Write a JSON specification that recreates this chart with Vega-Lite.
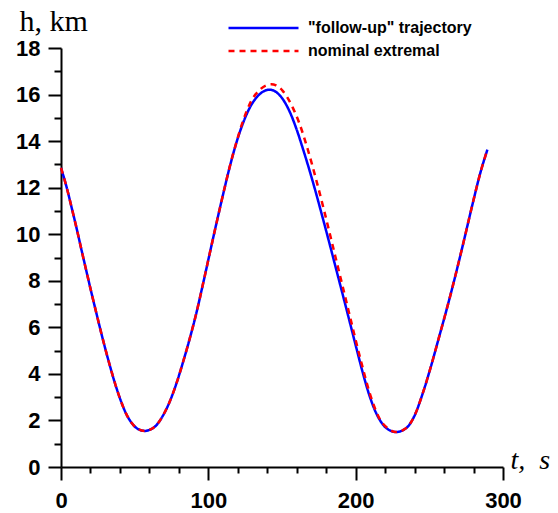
{
  "$schema": "https://vega.github.io/schema/vega-lite/v6.json",
  "autosize": "none",
  "width": 442,
  "height": 419,
  "padding": {"left": 61, "top": 48, "right": 55, "bottom": 46},
  "background": "white",
  "config": {
    "view": {"stroke": null},
    "axis": {
      "grid": false,
      "domainColor": "black",
      "domainWidth": 2,
      "tickColor": "black",
      "tickWidth": 2,
      "labelColor": "black",
      "labelFont": "Liberation Sans",
      "labelFontWeight": "bold",
      "labelFontSize": 22,
      "labelOverlap": false,
      "labelFlush": false,
      "titleFont": "Liberation Serif",
      "titleFontWeight": "normal",
      "titleColor": "black"
    },
    "legend": {
      "labelFont": "Liberation Sans",
      "labelFontWeight": "bold",
      "labelFontSize": 16,
      "labelColor": "black",
      "labelLimit": 0
    }
  },
  "data": {
    "values": [
      {"t": 0, "h": 12.85, "series": "\"follow-up\" trajectory"},
      {"t": 3.9, "h": 12.0, "series": "\"follow-up\" trajectory"},
      {"t": 7.2, "h": 11.15, "series": "\"follow-up\" trajectory"},
      {"t": 10.6, "h": 10.25, "series": "\"follow-up\" trajectory"},
      {"t": 14.0, "h": 9.3, "series": "\"follow-up\" trajectory"},
      {"t": 17.4, "h": 8.37, "series": "\"follow-up\" trajectory"},
      {"t": 20.8, "h": 7.45, "series": "\"follow-up\" trajectory"},
      {"t": 24.2, "h": 6.56, "series": "\"follow-up\" trajectory"},
      {"t": 27.5, "h": 5.71, "series": "\"follow-up\" trajectory"},
      {"t": 30.9, "h": 4.88, "series": "\"follow-up\" trajectory"},
      {"t": 34.3, "h": 4.1, "series": "\"follow-up\" trajectory"},
      {"t": 37.7, "h": 3.38, "series": "\"follow-up\" trajectory"},
      {"t": 41.1, "h": 2.76, "series": "\"follow-up\" trajectory"},
      {"t": 44.5, "h": 2.25, "series": "\"follow-up\" trajectory"},
      {"t": 47.9, "h": 1.9, "series": "\"follow-up\" trajectory"},
      {"t": 52.3, "h": 1.63, "series": "\"follow-up\" trajectory"},
      {"t": 56.9, "h": 1.55, "series": "\"follow-up\" trajectory"},
      {"t": 60.3, "h": 1.6, "series": "\"follow-up\" trajectory"},
      {"t": 64.8, "h": 1.8, "series": "\"follow-up\" trajectory"},
      {"t": 69.3, "h": 2.22, "series": "\"follow-up\" trajectory"},
      {"t": 73.8, "h": 2.81, "series": "\"follow-up\" trajectory"},
      {"t": 78.3, "h": 3.58, "series": "\"follow-up\" trajectory"},
      {"t": 82.8, "h": 4.5, "series": "\"follow-up\" trajectory"},
      {"t": 87.4, "h": 5.52, "series": "\"follow-up\" trajectory"},
      {"t": 91.9, "h": 6.62, "series": "\"follow-up\" trajectory"},
      {"t": 96.4, "h": 7.87, "series": "\"follow-up\" trajectory"},
      {"t": 100.9, "h": 9.16, "series": "\"follow-up\" trajectory"},
      {"t": 105.4, "h": 10.44, "series": "\"follow-up\" trajectory"},
      {"t": 109.9, "h": 11.68, "series": "\"follow-up\" trajectory"},
      {"t": 114.4, "h": 12.86, "series": "\"follow-up\" trajectory"},
      {"t": 119.0, "h": 13.92, "series": "\"follow-up\" trajectory"},
      {"t": 123.4, "h": 14.75, "series": "\"follow-up\" trajectory"},
      {"t": 128.0, "h": 15.42, "series": "\"follow-up\" trajectory"},
      {"t": 132.5, "h": 15.86, "series": "\"follow-up\" trajectory"},
      {"t": 137.0, "h": 16.12, "series": "\"follow-up\" trajectory"},
      {"t": 141.5, "h": 16.21, "series": "\"follow-up\" trajectory"},
      {"t": 148.3, "h": 15.98, "series": "\"follow-up\" trajectory"},
      {"t": 155.1, "h": 15.28, "series": "\"follow-up\" trajectory"},
      {"t": 159.6, "h": 14.56, "series": "\"follow-up\" trajectory"},
      {"t": 164.1, "h": 13.69, "series": "\"follow-up\" trajectory"},
      {"t": 168.6, "h": 12.76, "series": "\"follow-up\" trajectory"},
      {"t": 173.2, "h": 11.74, "series": "\"follow-up\" trajectory"},
      {"t": 177.6, "h": 10.71, "series": "\"follow-up\" trajectory"},
      {"t": 182.2, "h": 9.61, "series": "\"follow-up\" trajectory"},
      {"t": 186.7, "h": 8.51, "series": "\"follow-up\" trajectory"},
      {"t": 191.2, "h": 7.41, "series": "\"follow-up\" trajectory"},
      {"t": 195.7, "h": 6.3, "series": "\"follow-up\" trajectory"},
      {"t": 200.2, "h": 5.18, "series": "\"follow-up\" trajectory"},
      {"t": 204.7, "h": 4.08, "series": "\"follow-up\" trajectory"},
      {"t": 209.2, "h": 3.1, "series": "\"follow-up\" trajectory"},
      {"t": 213.8, "h": 2.33, "series": "\"follow-up\" trajectory"},
      {"t": 218.3, "h": 1.84, "series": "\"follow-up\" trajectory"},
      {"t": 223.9, "h": 1.55, "series": "\"follow-up\" trajectory"},
      {"t": 227.3, "h": 1.5, "series": "\"follow-up\" trajectory"},
      {"t": 234.1, "h": 1.66, "series": "\"follow-up\" trajectory"},
      {"t": 239.7, "h": 2.17, "series": "\"follow-up\" trajectory"},
      {"t": 245.3, "h": 3.12, "series": "\"follow-up\" trajectory"},
      {"t": 251.0, "h": 4.3, "series": "\"follow-up\" trajectory"},
      {"t": 256.6, "h": 5.58, "series": "\"follow-up\" trajectory"},
      {"t": 262.3, "h": 6.9, "series": "\"follow-up\" trajectory"},
      {"t": 268.0, "h": 8.3, "series": "\"follow-up\" trajectory"},
      {"t": 273.6, "h": 9.76, "series": "\"follow-up\" trajectory"},
      {"t": 279.2, "h": 11.26, "series": "\"follow-up\" trajectory"},
      {"t": 284.9, "h": 12.7, "series": "\"follow-up\" trajectory"},
      {"t": 289.4, "h": 13.63, "series": "\"follow-up\" trajectory"},

      {"t": 0, "h": 12.85, "series": "nominal extremal"},
      {"t": 3.9, "h": 12.0, "series": "nominal extremal"},
      {"t": 7.2, "h": 11.15, "series": "nominal extremal"},
      {"t": 10.6, "h": 10.25, "series": "nominal extremal"},
      {"t": 14.0, "h": 9.3, "series": "nominal extremal"},
      {"t": 17.4, "h": 8.37, "series": "nominal extremal"},
      {"t": 20.8, "h": 7.45, "series": "nominal extremal"},
      {"t": 24.2, "h": 6.56, "series": "nominal extremal"},
      {"t": 27.5, "h": 5.71, "series": "nominal extremal"},
      {"t": 30.9, "h": 4.88, "series": "nominal extremal"},
      {"t": 34.3, "h": 4.1, "series": "nominal extremal"},
      {"t": 37.7, "h": 3.38, "series": "nominal extremal"},
      {"t": 41.1, "h": 2.76, "series": "nominal extremal"},
      {"t": 44.5, "h": 2.25, "series": "nominal extremal"},
      {"t": 47.9, "h": 1.9, "series": "nominal extremal"},
      {"t": 52.3, "h": 1.63, "series": "nominal extremal"},
      {"t": 56.9, "h": 1.55, "series": "nominal extremal"},
      {"t": 60.3, "h": 1.6, "series": "nominal extremal"},
      {"t": 64.8, "h": 1.8, "series": "nominal extremal"},
      {"t": 69.3, "h": 2.22, "series": "nominal extremal"},
      {"t": 73.8, "h": 2.81, "series": "nominal extremal"},
      {"t": 78.3, "h": 3.58, "series": "nominal extremal"},
      {"t": 82.8, "h": 4.5, "series": "nominal extremal"},
      {"t": 87.4, "h": 5.52, "series": "nominal extremal"},
      {"t": 91.9, "h": 6.62, "series": "nominal extremal"},
      {"t": 96.4, "h": 7.87, "series": "nominal extremal"},
      {"t": 100.9, "h": 9.16, "series": "nominal extremal"},
      {"t": 105.4, "h": 10.44, "series": "nominal extremal"},
      {"t": 109.9, "h": 11.68, "series": "nominal extremal"},
      {"t": 114.4, "h": 12.87, "series": "nominal extremal"},
      {"t": 119.0, "h": 13.94, "series": "nominal extremal"},
      {"t": 123.4, "h": 14.84, "series": "nominal extremal"},
      {"t": 129.1, "h": 15.72, "series": "nominal extremal"},
      {"t": 134.8, "h": 16.2, "series": "nominal extremal"},
      {"t": 139.0, "h": 16.39, "series": "nominal extremal"},
      {"t": 142.7, "h": 16.44, "series": "nominal extremal"},
      {"t": 146.0, "h": 16.39, "series": "nominal extremal"},
      {"t": 150.5, "h": 16.16, "series": "nominal extremal"},
      {"t": 157.3, "h": 15.44, "series": "nominal extremal"},
      {"t": 161.8, "h": 14.76, "series": "nominal extremal"},
      {"t": 167.5, "h": 13.64, "series": "nominal extremal"},
      {"t": 173.2, "h": 12.34, "series": "nominal extremal"},
      {"t": 178.8, "h": 10.96, "series": "nominal extremal"},
      {"t": 183.3, "h": 9.8, "series": "nominal extremal"},
      {"t": 187.8, "h": 8.63, "series": "nominal extremal"},
      {"t": 193.5, "h": 7.15, "series": "nominal extremal"},
      {"t": 197.9, "h": 6.0, "series": "nominal extremal"},
      {"t": 203.6, "h": 4.55, "series": "nominal extremal"},
      {"t": 210.4, "h": 3.0, "series": "nominal extremal"},
      {"t": 216.0, "h": 2.1, "series": "nominal extremal"},
      {"t": 222.8, "h": 1.62, "series": "nominal extremal"},
      {"t": 227.3, "h": 1.5, "series": "nominal extremal"},
      {"t": 234.1, "h": 1.66, "series": "nominal extremal"},
      {"t": 239.7, "h": 2.17, "series": "nominal extremal"},
      {"t": 245.3, "h": 3.12, "series": "nominal extremal"},
      {"t": 251.0, "h": 4.3, "series": "nominal extremal"},
      {"t": 256.6, "h": 5.58, "series": "nominal extremal"},
      {"t": 262.3, "h": 6.9, "series": "nominal extremal"},
      {"t": 268.0, "h": 8.3, "series": "nominal extremal"},
      {"t": 273.6, "h": 9.76, "series": "nominal extremal"},
      {"t": 279.2, "h": 11.26, "series": "nominal extremal"},
      {"t": 284.9, "h": 12.7, "series": "nominal extremal"},
      {"t": 289.4, "h": 13.63, "series": "nominal extremal"}
    ]
  },
  "encoding": {
    "x": {
      "field": "t",
      "type": "quantitative",
      "scale": {"domain": [0, 300], "nice": false, "zero": false},
      "axis": {
        "title": "t,\u00a0\u00a0s",
        "titleFontSize": 28,
        "titleFontStyle": "italic",
        "titleAlign": "left",
        "titleBaseline": "alphabetic",
        "titleAngle": 0,
        "titleX": 449,
        "titleY": 1,
        "values": [0, 20, 40, 60, 80, 100, 120, 140, 160, 180, 200, 220, 240, 260, 280, 300],
        "labelExpr": "datum.value % 100 === 0 ? datum.label : ''",
        "tickSize": {"condition": {"test": "datum.value % 100 === 0", "value": 13}, "value": 6},
        "labelPadding": 10
      }
    },
    "y": {
      "field": "h",
      "type": "quantitative",
      "scale": {"domain": [0, 18], "nice": false, "zero": false},
      "axis": {
        "title": "h, km",
        "titleFontSize": 30,
        "titleAngle": 0,
        "titleAlign": "left",
        "titleBaseline": "alphabetic",
        "titleX": -42,
        "titleY": -18,
        "values": [0, 1, 2, 3, 4, 5, 6, 7, 8, 9, 10, 11, 12, 13, 14, 15, 16, 17, 18],
        "labelExpr": "datum.value % 2 === 0 ? datum.label : ''",
        "tickSize": {"condition": {"test": "datum.value % 2 === 0", "value": 13}, "value": 7},
        "labelPadding": 8
      }
    },
    "color": {
      "field": "series",
      "type": "nominal",
      "scale": {"domain": ["\"follow-up\" trajectory", "nominal extremal"], "range": ["#0000ff", "#ff0000"]},
      "legend": {
        "title": null,
        "orient": "none",
        "legendX": 166,
        "legendY": -28,
        "padding": 0,
        "symbolType": "stroke",
        "symbolSize": 4900,
        "symbolStrokeWidth": 2.5,
        "clipHeight": 16,
        "rowPadding": 7,
        "labelOffset": 8
      }
    },
    "strokeDash": {
      "field": "series",
      "type": "nominal",
      "scale": {"domain": ["\"follow-up\" trajectory", "nominal extremal"], "range": [[1, 0], [6, 5]]},
      "legend": {
        "title": null,
        "orient": "none",
        "legendX": 166,
        "legendY": -28,
        "padding": 0,
        "symbolType": "stroke",
        "symbolSize": 4900,
        "symbolStrokeWidth": 2.5,
        "clipHeight": 16,
        "rowPadding": 7,
        "labelOffset": 8
      }
    }
  },
  "layer": [
    {
      "transform": [{"filter": "datum.series === '\"follow-up\" trajectory'"}],
      "mark": {"type": "line", "strokeWidth": 2.5, "interpolate": "monotone"}
    },
    {
      "transform": [{"filter": "datum.series === 'nominal extremal'"}],
      "mark": {"type": "line", "strokeWidth": 2.5, "interpolate": "monotone"}
    }
  ]
}
